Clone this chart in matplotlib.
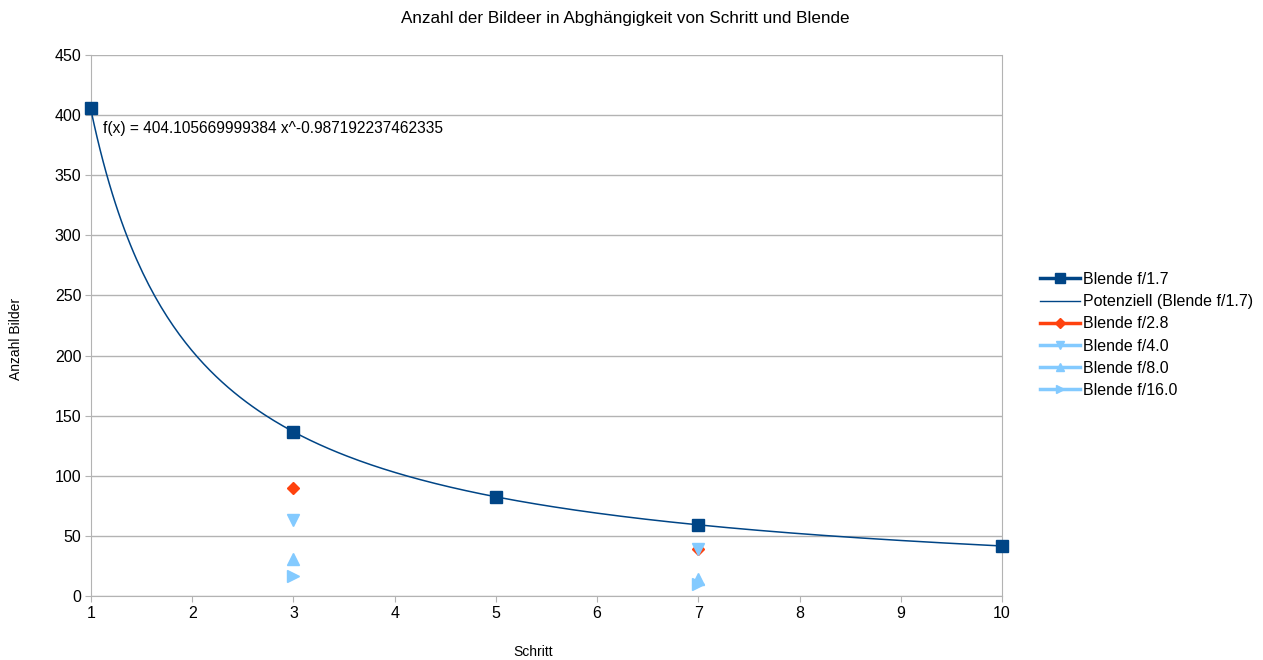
import numpy as np
import matplotlib.pyplot as plt
from matplotlib.lines import Line2D

plt.rcParams['font.family'] = ['Liberation Sans', 'DejaVu Sans']

# data
x_17 = [1, 3, 5, 7, 10]
y_17 = [406, 136, 82, 59, 42]
x_28 = [3, 7]
y_28 = [90, 39]
x_40 = [3, 7]
y_40 = [63, 39]
x_80 = [3, 7]
y_80 = [31, 14]
x_160 = [3, 7]
y_160 = [17, 10]

trend_a = 404.105669999384
trend_b = -0.987192237462335

dark = '#004586'
orange = '#ff420e'
light = '#83caff'

fig = plt.figure(figsize=(12.63, 6.6), dpi=100)
ax = fig.add_axes([91 / 1263, 1 - 596 / 660, 911 / 1263, 541 / 660])

# trend line
xt = np.linspace(1, 10, 300)
ax.plot(xt, trend_a * xt ** trend_b, color=dark, lw=1.1, zorder=3)

ax.plot(x_17, y_17, ls='none', marker='s', ms=8.5, color=dark, zorder=4, clip_on=False)
ax.plot(x_28, y_28, ls='none', marker='D', ms=6, color=orange, zorder=4, clip_on=False)
ax.plot(x_40, y_40, ls='none', marker='v', ms=8, color=light, zorder=4, clip_on=False)
ax.plot(x_80, y_80, ls='none', marker='^', ms=8, color=light, zorder=4, clip_on=False)
ax.plot(x_160, y_160, ls='none', marker='>', ms=8, color=light, zorder=4, clip_on=False)

ax.text(1.12, 389, 'f(x) = 404.105669999384 x^-0.987192237462335',
        fontsize=11.2, va='center', ha='left')

ax.set_xlim(1, 10)
ax.set_ylim(0, 450)
ax.set_xticks(range(1, 11))
ax.set_yticks(range(0, 451, 50))
ax.grid(axis='y', color='#b3b3b3', lw=1)
ax.set_axisbelow(True)
for s in ax.spines.values():
    s.set_color('#b3b3b3')
ax.spines['top'].set_visible(False)
ax.tick_params(axis='both', labelsize=11.5, color='#b3b3b3', length=4)
ax.tick_params(axis='y', pad=3)
ax.tick_params(axis='x', pad=3)

fig.text(625 / 1263, 1 - 18 / 660, 'Anzahl der Bildeer in Abghängigkeit von Schritt und Blende',
         ha='center', va='center', fontsize=12.3)
fig.text(533 / 1263, 1 - 652 / 660, 'Schritt', ha='center', va='center', fontsize=10)
fig.text(16 / 1263, 1 - 339 / 660, 'Anzahl Bilder', ha='center', va='center',
         fontsize=10, rotation=90)

handles = [
    Line2D([], [], color=dark, lw=2.5, marker='s', ms=7),
    Line2D([], [], color=dark, lw=1),
    Line2D([], [], color=orange, lw=2.5, marker='D', ms=5),
    Line2D([], [], color=light, lw=2.5, marker='v', ms=6),
    Line2D([], [], color=light, lw=2.5, marker='^', ms=6),
    Line2D([], [], color=light, lw=2.5, marker='>', ms=6),
]
labels = ['Blende f/1.7', 'Potenziell (Blende f/1.7)', 'Blende f/2.8',
          'Blende f/4.0', 'Blende f/8.0', 'Blende f/16.0']
fig.legend(handles, labels, loc='upper left', bbox_to_anchor=(1040 / 1263, 1 - 272 / 660),
           frameon=False, fontsize=11.5, handlelength=2.5, handletextpad=0.2,
           labelspacing=0.45, borderaxespad=0, borderpad=0)

fig.savefig('out.png', dpi=100)
